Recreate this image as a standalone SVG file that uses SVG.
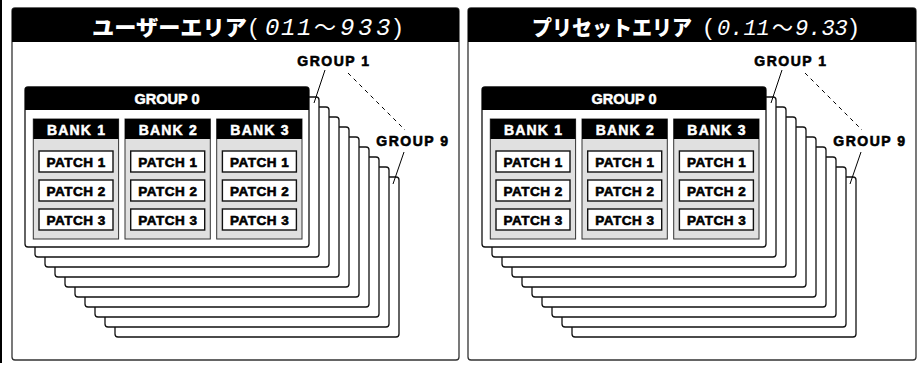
<svg xmlns="http://www.w3.org/2000/svg" width="923" height="366" viewBox="0 0 923 366">
<style>
.panel{fill:#fff;stroke:#333;stroke-width:1.3}
.bar{fill:#000}
.kt{font-family:"Noto Sans CJK JP","Noto Sans",sans-serif;font-weight:900;font-size:21px;fill:#fff}
.par{font-family:"Liberation Sans",sans-serif;font-weight:normal;font-size:24px;fill:#fff}
.seg{font-family:"Liberation Mono",monospace;font-style:italic;font-weight:normal;font-size:24px;fill:#fff}
.seg2{font-family:"Liberation Mono",monospace;font-style:italic;font-weight:normal;font-size:22px;fill:#fff}
.wave{font-family:"Noto Sans CJK JP",sans-serif;font-weight:normal;font-size:22px;fill:#fff}
.grp{fill:#fff;stroke:#111;stroke-width:1.3}
.hdr{fill:#000}
.bank{fill:#e0e0e0;stroke:#333;stroke-width:1}
.patch{fill:#fff;stroke:#111;stroke-width:1.4}
.lbl{font-family:"Liberation Sans",Arial,sans-serif;font-weight:bold;text-anchor:middle}
.w{fill:#fff;stroke:#fff;stroke-width:0.5}
.b{fill:#000;stroke:#000;stroke-width:0.6}
.f13{font-size:13.5px;letter-spacing:0.5px}
.f14{font-size:14px;letter-spacing:1.2px}
.fg{font-size:14.5px}
.fl{font-size:14px;letter-spacing:1.5px}
.lead{stroke:#000;stroke-width:1;fill:none}
.dash{stroke:#000;stroke-width:1;fill:none;stroke-dasharray:4 4}
</style>
<rect x="0" y="0" width="2" height="363" fill="#000"/>

<!-- LEFT PANEL -->
<g id="user-area">
<rect class="panel" x="12" y="8" width="447" height="352" rx="3"/>
<path class="bar" d="M12,42 V11 a3,3 0 0 1 3,-3 H456 a3,3 0 0 1 3,3 V42 Z"/>
<text y="35"><tspan class="kt" x="92" textLength="155" lengthAdjust="spacingAndGlyphs">ユーザーエリア</tspan><tspan class="par" x="249">(</tspan><tspan class="seg" x="265 281 297">011</tspan><tspan class="wave" x="314">〜</tspan><tspan class="seg" x="340 358 376">933</tspan><tspan class="par" x="394">)</tspan></text>
</g>
<g id="user-groups-back">
<rect class="grp" x="115" y="177" width="284" height="160" rx="3"/>
<rect class="grp" x="105" y="167" width="284" height="160" rx="3"/>
<rect class="grp" x="95" y="157" width="284" height="160" rx="3"/>
<rect class="grp" x="85" y="147" width="284" height="160" rx="3"/>
<rect class="grp" x="75" y="137" width="284" height="160" rx="3"/>
<rect class="grp" x="65" y="127" width="284" height="160" rx="3"/>
<rect class="grp" x="55" y="117" width="284" height="160" rx="3"/>
<rect class="grp" x="45" y="107" width="284" height="160" rx="3"/>
<rect class="grp" x="35" y="97" width="284" height="160" rx="3"/>
</g>
<g id="user-group0">
<rect class="grp" x="25" y="87" width="284" height="160" rx="3"/>
<path class="hdr" d="M25,110 V90 a3,3 0 0 1 3,-3 H306 a3,3 0 0 1 3,3 V110 Z"/>
<text class="lbl w fg" x="167" y="104">GROUP 0</text>
</g>
<g id="user-bank1">
<rect class="bank" x="33.3" y="119" width="85.3" height="120"/>
<rect class="hdr" x="33.3" y="119" width="85.3" height="20"/>
<text class="lbl w f14" x="76.6" y="135">BANK 1</text>
<rect class="patch" x="39" y="151" width="74" height="21"/><text class="lbl b f13" x="76.2" y="167">PATCH 1</text>
<rect class="patch" x="39" y="180" width="74" height="21"/><text class="lbl b f13" x="76.2" y="196">PATCH 2</text>
<rect class="patch" x="39" y="209" width="74" height="21"/><text class="lbl b f13" x="76.2" y="225">PATCH 3</text>
</g>
<g id="user-bank2">
<rect class="bank" x="125" y="119" width="85.3" height="120"/>
<rect class="hdr" x="125" y="119" width="85.3" height="20"/>
<text class="lbl w f14" x="168.3" y="135">BANK 2</text>
<rect class="patch" x="130.7" y="151" width="74" height="21"/><text class="lbl b f13" x="167.9" y="167">PATCH 1</text>
<rect class="patch" x="130.7" y="180" width="74" height="21"/><text class="lbl b f13" x="167.9" y="196">PATCH 2</text>
<rect class="patch" x="130.7" y="209" width="74" height="21"/><text class="lbl b f13" x="167.9" y="225">PATCH 3</text>
</g>
<g id="user-bank3">
<rect class="bank" x="216.7" y="119" width="85.3" height="120"/>
<rect class="hdr" x="216.7" y="119" width="85.3" height="20"/>
<text class="lbl w f14" x="260" y="135">BANK 3</text>
<rect class="patch" x="222.4" y="151" width="74" height="21"/><text class="lbl b f13" x="259.6" y="167">PATCH 1</text>
<rect class="patch" x="222.4" y="180" width="74" height="21"/><text class="lbl b f13" x="259.6" y="196">PATCH 2</text>
<rect class="patch" x="222.4" y="209" width="74" height="21"/><text class="lbl b f13" x="259.6" y="225">PATCH 3</text>
</g>
<g id="user-label-group1"><text class="lbl b fl" x="334" y="66">GROUP 1</text></g>
<g id="user-label-group9"><text class="lbl b fl" x="413" y="146">GROUP 9</text></g>
<g id="user-connectors">
<line class="lead" x1="325" y1="70" x2="314" y2="103"/>
<line class="dash" x1="348" y1="73" x2="405" y2="130"/>
<line class="lead" x1="404" y1="152" x2="393" y2="184"/>
</g>

<!-- RIGHT PANEL -->
<g id="preset-area">
<rect class="panel" x="468" y="8" width="448" height="352" rx="3"/>
<path class="bar" d="M468,42 V11 a3,3 0 0 1 3,-3 H913 a3,3 0 0 1 3,3 V42 Z"/>
<text y="35"><tspan class="kt" x="532" textLength="160" lengthAdjust="spacingAndGlyphs">プリセットエリア</tspan><tspan class="par" x="704">(</tspan><tspan class="seg2" x="717">0.11</tspan><tspan class="wave" x="772" style="font-size:21px">〜</tspan><tspan class="seg2" x="795">9.33</tspan><tspan class="par" x="850">)</tspan></text>
</g>
<g id="preset-groups-back">
<rect class="grp" x="572" y="177" width="284" height="160" rx="3"/>
<rect class="grp" x="562" y="167" width="284" height="160" rx="3"/>
<rect class="grp" x="552" y="157" width="284" height="160" rx="3"/>
<rect class="grp" x="542" y="147" width="284" height="160" rx="3"/>
<rect class="grp" x="532" y="137" width="284" height="160" rx="3"/>
<rect class="grp" x="522" y="127" width="284" height="160" rx="3"/>
<rect class="grp" x="512" y="117" width="284" height="160" rx="3"/>
<rect class="grp" x="502" y="107" width="284" height="160" rx="3"/>
<rect class="grp" x="492" y="97" width="284" height="160" rx="3"/>
</g>
<g id="preset-group0">
<rect class="grp" x="482" y="87" width="284" height="160" rx="3"/>
<path class="hdr" d="M482,110 V90 a3,3 0 0 1 3,-3 H763 a3,3 0 0 1 3,3 V110 Z"/>
<text class="lbl w fg" x="624" y="104">GROUP 0</text>
</g>
<g id="preset-bank1">
<rect class="bank" x="490.3" y="119" width="85.3" height="120"/>
<rect class="hdr" x="490.3" y="119" width="85.3" height="20"/>
<text class="lbl w f14" x="533.6" y="135">BANK 1</text>
<rect class="patch" x="496" y="151" width="74" height="21"/><text class="lbl b f13" x="533.2" y="167">PATCH 1</text>
<rect class="patch" x="496" y="180" width="74" height="21"/><text class="lbl b f13" x="533.2" y="196">PATCH 2</text>
<rect class="patch" x="496" y="209" width="74" height="21"/><text class="lbl b f13" x="533.2" y="225">PATCH 3</text>
</g>
<g id="preset-bank2">
<rect class="bank" x="582" y="119" width="85.3" height="120"/>
<rect class="hdr" x="582" y="119" width="85.3" height="20"/>
<text class="lbl w f14" x="625.3" y="135">BANK 2</text>
<rect class="patch" x="587.7" y="151" width="74" height="21"/><text class="lbl b f13" x="624.9" y="167">PATCH 1</text>
<rect class="patch" x="587.7" y="180" width="74" height="21"/><text class="lbl b f13" x="624.9" y="196">PATCH 2</text>
<rect class="patch" x="587.7" y="209" width="74" height="21"/><text class="lbl b f13" x="624.9" y="225">PATCH 3</text>
</g>
<g id="preset-bank3">
<rect class="bank" x="673.7" y="119" width="85.3" height="120"/>
<rect class="hdr" x="673.7" y="119" width="85.3" height="20"/>
<text class="lbl w f14" x="717" y="135">BANK 3</text>
<rect class="patch" x="679.4" y="151" width="74" height="21"/><text class="lbl b f13" x="716.6" y="167">PATCH 1</text>
<rect class="patch" x="679.4" y="180" width="74" height="21"/><text class="lbl b f13" x="716.6" y="196">PATCH 2</text>
<rect class="patch" x="679.4" y="209" width="74" height="21"/><text class="lbl b f13" x="716.6" y="225">PATCH 3</text>
</g>
<g id="preset-label-group1"><text class="lbl b fl" x="791" y="66">GROUP 1</text></g>
<g id="preset-label-group9"><text class="lbl b fl" x="870" y="146">GROUP 9</text></g>
<g id="preset-connectors">
<line class="lead" x1="782" y1="70" x2="771" y2="103"/>
<line class="dash" x1="805" y1="73" x2="862" y2="130"/>
<line class="lead" x1="861" y1="152" x2="850" y2="184"/>
</g>
</svg>
